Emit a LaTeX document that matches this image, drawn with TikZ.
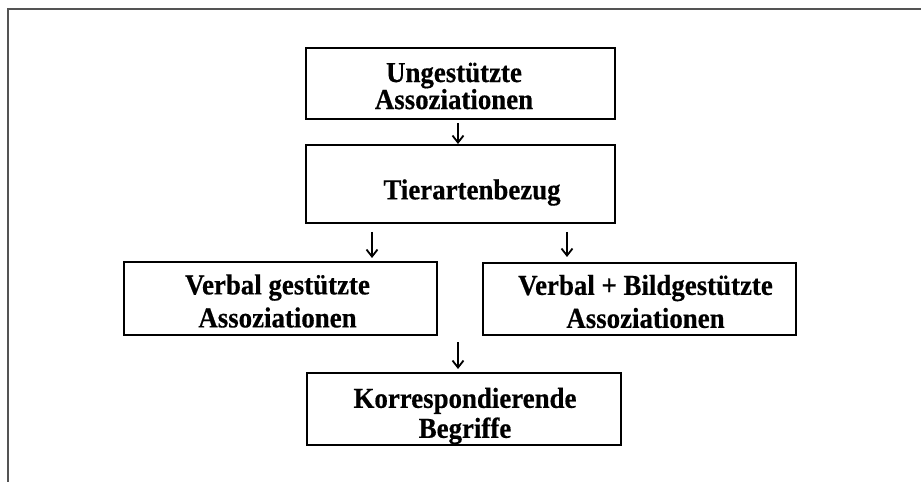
\documentclass[tikz,border=0pt]{standalone}
\usepackage{fontspec}
\setmainfont{Liberation Serif}[FakeStretch=0.93,BoldFeatures={FakeBold=0.5}]
\usetikzlibrary{arrows.meta}
\begin{document}
\begin{tikzpicture}[x=1bp,y=-1bp,
  boxstyle/.style={draw=black,line width=1.5bp,inner sep=0pt,outer sep=0pt},
  txt/.style={align=center,inner sep=0pt,font=\fontsize{29}{#1}\selectfont\bfseries},
  arr/.style={line width=1.8bp,-{Straight Barb[length=7bp,width=11bp,line width=1.8bp]}},
  framestyle/.style={draw=black!67,line width=2bp}]
\useasboundingbox (0,0) rectangle (921,482);
\draw[framestyle] (921,9.5) -- (7.5,9.5) -- (7.5,482);
% boxes
\node[boxstyle,minimum width=309bp,minimum height=71bp] (top) at (460.5,83.5) {};
\node[boxstyle,minimum width=309bp,minimum height=78bp] (tier) at (460.5,184) {};
\node[boxstyle,minimum width=313bp,minimum height=73bp] (left) at (280.5,298.5) {};
\node[boxstyle,minimum width=313bp,minimum height=72bp] (right) at (639.5,299) {};
\node[boxstyle,minimum width=314bp,minimum height=72bp] (bot) at (464,409) {};
% texts
\node[txt=27bp] (ttop) at (454,86) {Ungestützte\\Assoziationen};
\node[txt=27bp] (ttier) at (472,192.5) {Tierartenbezug};
\node[txt=33bp] (tleft) at (277.5,301) {Verbal gestützte\\Assoziationen};
\node[txt=33bp] (tright) at (645.5,301.5) {Verbal + Bildgestützte\\Assoziationen};
\node[txt=30bp] (tbot) at (465,416) {Korrespondierende\\Begriffe};
% arrows
\coordinate (c1) at (458,0);
\coordinate (c2) at (372,0);
\coordinate (c3) at (567,0);
\coordinate (c4) at (458,0);
\draw[arr,shorten <=4bp,shorten >=1bp] (top.south -| c1) -- (tier.north -| c1);
\draw[arr,shorten <=9bp,shorten >=4bp] (tier.south -| c2) -- (left.north -| c2);
\draw[arr,shorten <=9bp,shorten >=6bp] (tier.south -| c3) -- (right.north -| c3);
\draw[arr,shorten <=7bp,shorten >=4bp] (left.south -| c4) -- (bot.north -| c4);
\end{tikzpicture}
\end{document}
